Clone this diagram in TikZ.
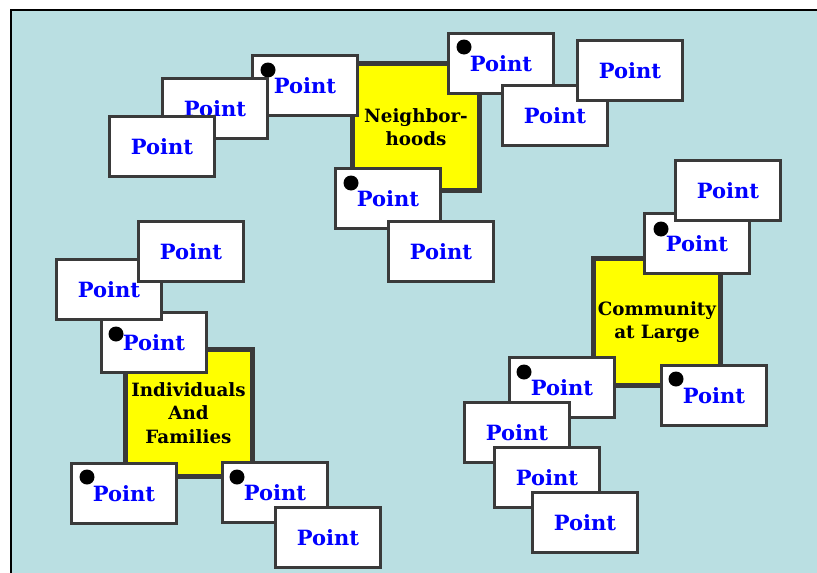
\documentclass[tikz,border=0pt]{standalone}
\usepackage{fontspec}
\setmainfont{DejaVu Serif}
\definecolor{panelbg}{RGB}{186,223,226}
\definecolor{boxgray}{RGB}{58,58,58}
\definecolor{areayellow}{RGB}{255,255,0}
\tikzset{
  pointbox/.style={draw=boxgray, fill=white, line width=3.3pt,
    minimum width=104.7pt, minimum height=59.7pt, inner sep=0pt,
    text=blue, font=\bfseries\fontsize{21}{21}\selectfont},
  areabox/.style={draw=boxgray, fill=areayellow, line width=5pt,
    minimum width=127pt, minimum height=127pt, inner sep=0pt, align=center,
    font=\bfseries\fontsize{18.3}{23.5}\selectfont},
  dotmark/.style={circle, fill=black, inner sep=0pt, minimum size=15pt}
}
% a Point card given by its outer top-left corner
\newcommand\ptcard[3]{\node[pointbox] (#1) at (#2+54,#3+31.5) {Point};}
\begin{document}
\begin{tikzpicture}[x=1pt,y=-1pt]
\useasboundingbox (0,0) rectangle (817,573);
\begin{scope}
\clip (0,0) rectangle (817,573);
\fill[panelbg] (10,10) rectangle (830,590);
\draw[line width=2pt] (10.5,590) -- (10.5,10.2) -- (830,10.2);
\end{scope}

% Neighborhoods cluster
\node[areabox] (nbh) at (416,127) {Neighbor-\\hoods};
\ptcard{p1}{251}{54}
\node[dotmark] (d1) at (268,70) {};
\ptcard{p2}{161}{77}
\ptcard{p3}{108}{115}
\ptcard{p4}{447}{32}
\node[dotmark] (d4) at (464,47) {};
\ptcard{p5}{501}{84}
\ptcard{p6}{576}{39}
\ptcard{p7}{334}{167}
\node[dotmark] (d7) at (351,183) {};
\ptcard{p8}{387}{220}

% Individuals and Families cluster
\node[areabox] (ind) at (188.5,413) {Individuals\\And\\Families};
\ptcard{p11}{100}{311}
\node[dotmark] (d11) at (116,334) {};
\ptcard{p10}{55}{258}
\ptcard{p9}{137}{220}
\ptcard{p12}{70}{462}
\node[dotmark] (d12) at (87,477) {};
\ptcard{p13}{221}{461}
\node[dotmark] (d13) at (237,477) {};
\ptcard{p14}{274}{506}

% Community at Large cluster
\node[areabox] (com) at (657,322) {Community\\at Large};
\ptcard{p16}{643}{212}
\node[dotmark] (d16) at (661,229) {};
\ptcard{p15}{674}{159}
\ptcard{p17}{660}{364}
\node[dotmark] (d17) at (676,379) {};
\ptcard{p18}{508}{356}
\node[dotmark] (d18) at (524,372) {};
\ptcard{p19}{463}{401}
\ptcard{p20}{493}{446}
\ptcard{p21}{531}{491}
\end{tikzpicture}
\end{document}
